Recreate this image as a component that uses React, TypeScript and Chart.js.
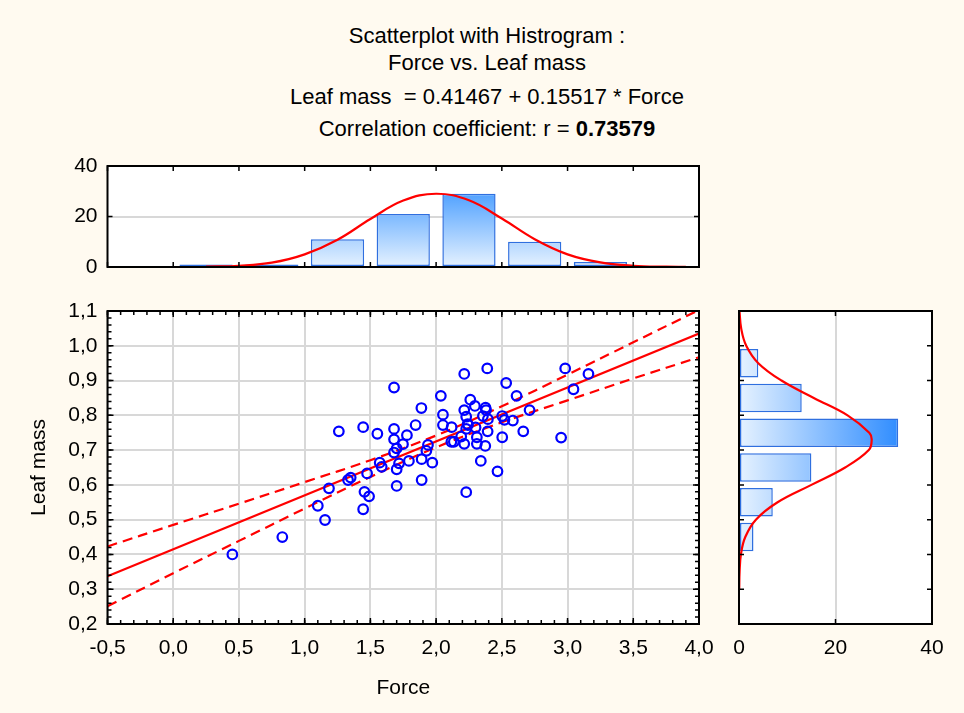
import React, { useEffect, useRef } from "react";
import { Chart, registerables } from "chart.js";

Chart.register(...registerables);

const FONT = '"Liberation Sans", Arial, Helvetica, sans-serif';
const BG = "#fffaf0";
const GRID = "#d8d8d8";

// ---- scatter data (Force, Leaf mass) ----
const forceValues = [
  0.45, 0.83, 1.1, 1.155, 1.185, 1.26, 1.33, 1.35, 1.445, 1.455, 1.49, 1.445, 1.475,
  1.553, 1.571, 1.586, 1.68, 1.68, 1.68, 1.68, 1.7, 1.7, 1.718, 1.748, 1.778, 1.844,
  1.793, 1.888, 1.89, 1.89, 1.926, 1.938, 1.971, 2.036, 2.052, 2.052, 2.118, 2.116,
  2.135, 2.191, 2.214, 2.214, 2.214, 2.229, 2.229, 2.242, 2.229, 2.26, 2.295, 2.31,
  2.31, 2.34, 2.374, 2.376, 2.356, 2.394, 2.392, 2.389, 2.467, 2.503, 2.503, 2.52,
  2.533, 2.584, 2.612, 2.663, 2.711, 2.951, 2.982, 3.045, 3.159, 1.7, 2.3, 2.24, 2.38,
];
const leafMassValues = [
  0.4, 0.45, 0.54, 0.499, 0.59, 0.754, 0.614, 0.621, 0.766, 0.58, 0.567, 0.53, 0.633,
  0.747, 0.664, 0.652, 0.88, 0.761, 0.731, 0.693, 0.597, 0.645, 0.662, 0.717, 0.743,
  0.772, 0.669, 0.821, 0.674, 0.614, 0.698, 0.715, 0.664, 0.856, 0.802, 0.772, 0.766,
  0.724, 0.724, 0.739, 0.919, 0.815, 0.718, 0.796, 0.761, 0.772, 0.579, 0.845, 0.827,
  0.737, 0.718, 0.669, 0.712, 0.822, 0.798, 0.789, 0.754, 0.935, 0.639, 0.737, 0.798,
  0.787, 0.893, 0.785, 0.856, 0.754, 0.815, 0.736, 0.935, 0.875, 0.919, 0.705, 0.765,
  0.775, 0.815,
];

// ---- regression line and 95% band ----
const fitX = [-0.5, 4.0];
const fitY = [0.337, 1.035];
const bandX = [-0.5, 0, 0.5, 1.0, 1.5, 2.0, 2.5, 3.0, 3.5, 4.0];
const bandUpper = [0.423, 0.485, 0.546, 0.608, 0.671, 0.742, 0.826, 0.917, 1.01, 1.103];
const bandLower = [0.251, 0.346, 0.439, 0.532, 0.623, 0.708, 0.78, 0.843, 0.906, 0.967];

// ---- top histogram (Force) ----
const forceBinCenters = [0.25, 0.75, 1.25, 1.75, 2.25, 2.75, 3.25];
const forceBinCounts = [1, 1, 11, 21, 29, 10, 2];
const forceCurveX = [0.25, 0.5, 0.75, 1.0, 1.25, 1.5, 1.75, 2.0, 2.25, 2.5, 2.75, 3.0, 3.25, 3.5, 3.75, 3.9];
const forceCurveCount = [0.12, 0.5, 1.7, 5.0, 10.8, 19.0, 26.3, 29.0, 26.4, 19.2, 11.0, 5.0, 1.8, 0.5, 0.12, 0.04];

// ---- right histogram (Leaf mass) ----
const massBinCenters = [0.45, 0.55, 0.65, 0.75, 0.85, 0.95];
const massBinCounts = [3, 7, 15, 33, 13, 4];
const massCurveY = [0.3, 0.35, 0.4, 0.45, 0.5, 0.55, 0.6, 0.65, 0.7, 0.73, 0.75, 0.8, 0.85, 0.9, 0.95, 1.0, 1.05, 1.1];
const massCurveCount = [0.05, 0.12, 0.4, 1.3, 3.5, 8.0, 15.0, 22.0, 26.9, 27.5, 27.0, 22.5, 15.5, 8.8, 4.0, 1.5, 0.45, 0.1];

// ---- tick labels ----
const xTickValues = [-0.5, 0, 0.5, 1.0, 1.5, 2.0, 2.5, 3.0, 3.5, 4.0];
const xTickLabels = ["-0,5", "0,0", "0,5", "1,0", "1,5", "2,0", "2,5", "3,0", "3,5", "4,0"];
const yTickValues = [0.2, 0.3, 0.4, 0.5, 0.6, 0.7, 0.8, 0.9, 1.0, 1.1];
const yTickLabels = ["0,2", "0,3", "0,4", "0,5", "0,6", "0,7", "0,8", "0,9", "1,0", "1,1"];
const countTickValues = [0, 20, 40];
const countTickLabels = ["0", "20", "40"];

const titleLines = [
  "Scatterplot with Histrogram :",
  "Force vs. Leaf mass",
  "Leaf mass  = 0.41467 + 0.15517 * Force",
];
const corrLabel = "Correlation coefficient: r = ";
const corrValue = "0.73579";

const lookup = (vals: number[], labels: string[]) => (v: any) => {
  const i = vals.findIndex((t) => Math.abs(t - Number(v)) < 1e-6);
  return i >= 0 ? labels[i] : "";
};

const innerTicks = {
  id: "innerTicks",
  beforeDraw(chart: any) {
    const { ctx, chartArea } = chart;
    if (!chartArea) return;
    ctx.save();
    ctx.fillStyle = "#ffffff";
    ctx.fillRect(chartArea.left, chartArea.top, chartArea.right - chartArea.left, chartArea.bottom - chartArea.top);
    ctx.restore();
  },
  afterDatasetsDraw(chart: any, _a: any, opts: any) {
    const { ctx, chartArea } = chart;
    const { left, right, top, bottom } = chartArea;
    ctx.save();
    ctx.strokeStyle = "#000";
    ctx.lineWidth = 1.5;
    const draw = (axis: string, step: number, len: number) => {
      const s = chart.scales[axis];
      const n = Math.round((s.max - s.min) / step);
      ctx.beginPath();
      for (let i = 0; i <= n; i++) {
        const p = s.getPixelForValue(s.min + i * step);
        if (axis === "x") {
          ctx.moveTo(p, bottom);
          ctx.lineTo(p, bottom - len);
          ctx.moveTo(p, top);
          ctx.lineTo(p, top + len);
        } else {
          ctx.moveTo(left, p);
          ctx.lineTo(left + len, p);
          ctx.moveTo(right, p);
          ctx.lineTo(right - len, p);
        }
      }
      ctx.stroke();
    };
    (opts.x || []).forEach((t: number[]) => draw("x", t[0], t[1]));
    (opts.y || []).forEach((t: number[]) => draw("y", t[0], t[1]));
    ctx.lineWidth = 2;
    ctx.strokeRect(left, top, right - left, bottom - top);
    ctx.restore();
  },
};

const tickFont = { family: FONT, size: 21 };

const fixX = (h: number) => (s: any) => {
  s.height = h;
  s.paddingLeft = 0;
  s.paddingRight = 0;
};
const fixY = (w: number) => (s: any) => {
  s.width = w;
  s.paddingTop = 0;
  s.paddingBottom = 0;
};

function useChart(ref: React.RefObject<HTMLCanvasElement>, make: (c: HTMLCanvasElement) => Chart) {
  useEffect(() => {
    if (!ref.current) return;
    const ch = make(ref.current);
    return () => ch.destroy();
  }, []);
}

export default function App() {
  const mainRef = useRef<HTMLCanvasElement>(null);
  const topRef = useRef<HTMLCanvasElement>(null);
  const rightRef = useRef<HTMLCanvasElement>(null);

  useChart(mainRef, (c) =>
    new Chart(c, {
      type: "scatter",
      data: {
        datasets: [
          {
            label: "Leaf mass",
            data: forceValues.map((x, i) => ({ x, y: leafMassValues[i] })),
            pointRadius: 4.8,
            pointBorderWidth: 2.2,
            pointBorderColor: "#0000ff",
            pointBackgroundColor: "rgba(0,0,0,0)",
            borderColor: "#0000ff",
            showLine: false,
          },
          {
            label: "fit",
            data: fitX.map((x, i) => ({ x, y: fitY[i] })),
            showLine: true,
            borderColor: "#ff0000",
            borderWidth: 2.2,
            pointRadius: 0,
          },
          {
            label: "upper",
            data: bandX.map((x, i) => ({ x, y: bandUpper[i] })),
            showLine: true,
            borderColor: "#ff0000",
            borderWidth: 2.2,
            borderDash: [10, 6],
            tension: 0.4,
            pointRadius: 0,
          },
          {
            label: "lower",
            data: bandX.map((x, i) => ({ x, y: bandLower[i] })),
            showLine: true,
            borderColor: "#ff0000",
            borderWidth: 2.2,
            borderDash: [10, 6],
            tension: 0.4,
            pointRadius: 0,
          },
        ],
      },
      options: {
        animation: false,
        responsive: false,
        maintainAspectRatio: false,
        events: [],
        layout: { padding: { top: 31, right: 21, left: 0, bottom: 0 } },
        plugins: {
          legend: { display: false },
          tooltip: { enabled: false },
          innerTicks: { x: [[0.1, 4], [0.5, 6]], y: [[0.02, 4], [0.1, 6]] },
        } as any,
        scales: {
          x: {
            type: "linear",
            min: -0.5,
            max: 4.0,
            afterFit: fixX(89),
            border: { display: false },
            grid: { color: GRID, lineWidth: 2, drawTicks: false },
            ticks: {
              stepSize: 0.5,
              padding: 12,
              color: "#000",
              font: tickFont,
              maxRotation: 0,
              autoSkip: false,
              callback: lookup(xTickValues, xTickLabels),
            },
            title: {
              display: true,
              text: "Force",
              color: "#000",
              font: tickFont,
              padding: { top: 0, bottom: 12 },
            },
          },
          y: {
            type: "linear",
            min: 0.2,
            max: 1.1,
            afterFit: fixY(107.5),
            border: { display: false },
            grid: { color: GRID, lineWidth: 2, drawTicks: false },
            ticks: {
              stepSize: 0.1,
              padding: 10,
              color: "#000",
              font: tickFont,
              autoSkip: false,
              callback: lookup(yTickValues, yTickLabels),
            },
            title: {
              display: true,
              text: "Leaf mass",
              color: "#000",
              font: tickFont,
              padding: { top: 27, bottom: 0 },
            },
          },
        },
      },
      plugins: [innerTicks as any],
    })
  );

  useChart(topRef, (c) =>
    new Chart(c, {
      type: "bar",
      data: {
        datasets: [
          {
            type: "line",
            data: forceCurveX.map((x, i) => ({ x, y: forceCurveCount[i] })),
            borderColor: "#ff0000",
            borderWidth: 2.2,
            pointRadius: 0,
            tension: 0.4,
            order: 0,
          } as any,
          {
            type: "bar",
            data: forceBinCenters.map((x, i) => ({ x, y: forceBinCounts[i] })),
            backgroundColor: (ctx: any) => {
              const { chart } = ctx;
              const a = chart.chartArea;
              if (!a) return "#9fcfff";
              const g = chart.ctx.createLinearGradient(0, a.bottom, 0, a.top);
              g.addColorStop(0, "#e6f2ff");
              g.addColorStop(1, "#1a84ff");
              return g;
            },
            borderColor: "#2f6fdf",
            borderWidth: 1.5,
            borderSkipped: false,
            barPercentage: 0.81,
            categoryPercentage: 1,
            order: 1,
          } as any,
        ],
      },
      options: {
        animation: false,
        responsive: false,
        maintainAspectRatio: false,
        events: [],
        layout: { padding: { top: 16, right: 21, left: 0, bottom: 13 } },
        plugins: {
          legend: { display: false },
          tooltip: { enabled: false },
          innerTicks: { x: [[0.5, 5]], y: [[20, 5]] },
        } as any,
        scales: {
          x: {
            type: "linear",
            min: -0.5,
            max: 4.0,
            offset: false,
            display: false,
            grid: { offset: false },
          },
          y: {
            type: "linear",
            min: 0,
            max: 40,
            afterFit: fixY(107.5),
            border: { display: false },
            grid: { color: GRID, lineWidth: 2, drawTicks: false },
            ticks: {
              stepSize: 20,
              padding: 10,
              color: "#000",
              font: tickFont,
              callback: lookup(countTickValues, countTickLabels),
            },
          },
        },
      } as any,
      plugins: [innerTicks as any],
    })
  );

  useChart(rightRef, (c) =>
    new Chart(c, {
      type: "bar",
      data: {
        datasets: [
          {
            type: "line",
            indexAxis: "y",
            data: massCurveY.map((y, i) => ({ x: massCurveCount[i], y })),
            borderColor: "#ff0000",
            borderWidth: 2.2,
            pointRadius: 0,
            tension: 0.4,
            order: 0,
          } as any,
          {
            type: "bar",
            data: massBinCenters.map((y, i) => ({ x: massBinCounts[i], y })),
            backgroundColor: (ctx: any) => {
              const { chart } = ctx;
              const a = chart.chartArea;
              if (!a) return "#9fcfff";
              const g = chart.ctx.createLinearGradient(a.left, 0, a.right, 0);
              g.addColorStop(0, "#e6f2ff");
              g.addColorStop(1, "#0a78ff");
              return g;
            },
            borderColor: "#2f6fdf",
            borderWidth: 1.5,
            borderSkipped: false,
            barPercentage: 0.82,
            categoryPercentage: 1,
            order: 1,
          } as any,
        ],
      },
      options: {
        indexAxis: "y",
        animation: false,
        responsive: false,
        maintainAspectRatio: false,
        events: [],
        layout: { padding: { top: 31, right: 32, left: 19, bottom: 0 } },
        plugins: {
          legend: { display: false },
          tooltip: { enabled: false },
          innerTicks: { x: [[20, 5]], y: [[0.1, 5]] },
        } as any,
        scales: {
          x: {
            type: "linear",
            position: "bottom",
            min: 0,
            max: 40,
            afterFit: fixX(89),
            border: { display: false },
            grid: { color: GRID, lineWidth: 2, drawTicks: false },
            ticks: {
              stepSize: 20,
              padding: 12,
              color: "#000",
              font: tickFont,
              maxRotation: 0,
              callback: lookup(countTickValues, countTickLabels),
            },
          },
          y: {
            type: "linear",
            min: 0.2,
            max: 1.1,
            offset: false,
            display: false,
            grid: { offset: false },
          },
        },
      } as any,
      plugins: [innerTicks as any],
    })
  );

  const lineStyle = (top: number): React.CSSProperties => ({
    position: "absolute",
    left: 187,
    width: 600,
    top,
    height: 26,
    lineHeight: "26px",
    textAlign: "center",
    fontFamily: FONT,
    fontSize: 22,
    color: "#000",
    whiteSpace: "pre",
  });

  return (
    <div
      style={{
        position: "fixed",
        left: 0,
        top: 0,
        width: 964,
        height: 713,
        background: BG,
        overflow: "hidden",
      }}
    >
      <div style={lineStyle(23)}>{titleLines[0]}</div>
      <div style={lineStyle(50)}>{titleLines[1]}</div>
      <div style={lineStyle(84)}>{titleLines[2]}</div>
      <div style={lineStyle(116)}>
        {corrLabel}
        <b>{corrValue}</b>
      </div>
      <canvas
        ref={topRef}
        width={720}
        height={130}
        style={{ position: "absolute", left: 0, top: 150, width: 720, height: 130 }}
      />
      <canvas
        ref={mainRef}
        width={720}
        height={433}
        style={{ position: "absolute", left: 0, top: 280, width: 720, height: 433 }}
      />
      <canvas
        ref={rightRef}
        width={244}
        height={433}
        style={{ position: "absolute", left: 720, top: 280, width: 244, height: 433 }}
      />
    </div>
  );
}
